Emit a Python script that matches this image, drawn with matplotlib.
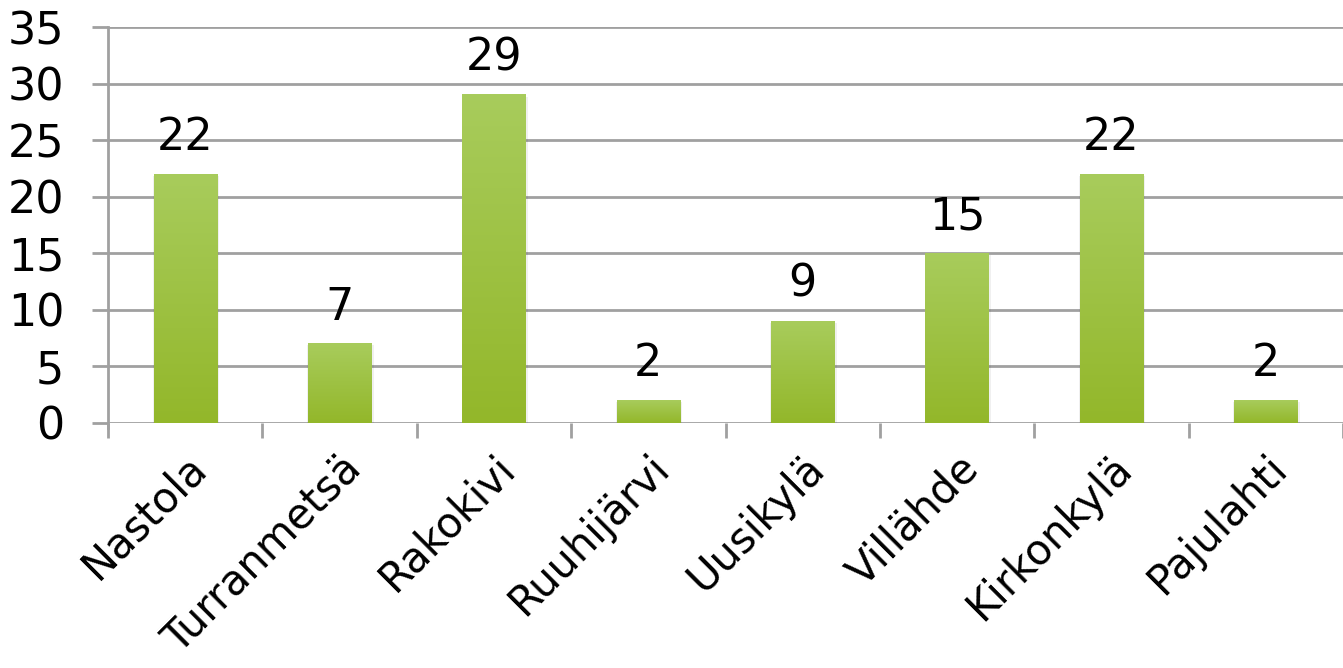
import numpy as np
import matplotlib.pyplot as plt
from matplotlib.colors import LinearSegmentedColormap

# data
places = ['Nastola', 'Turranmetsä', 'Rakokivi', 'Ruuhijärvi', 'Uusikylä',
          'Villähde', 'Kirkonkylä', 'Pajulahti']
counts = [22, 7, 29, 2, 9, 15, 22, 2]
y_ticks = [0, 5, 10, 15, 20, 25, 30, 35]

plt.rcParams['font.family'] = ['DejaVu Sans']
fs = 32

fig = plt.figure(figsize=(13.43, 6.68), dpi=100)
ax = fig.add_axes([108 / 1343, 1 - 423 / 668, 1 - 108 / 1343, (423 - 27) / 668])

x = np.arange(len(places))
bar_w = 0.41
grey = '#a0a0a0'

# gradient fill for bars (light on top, darker at bottom)
cmap = LinearSegmentedColormap.from_list('g', ['#93b72a', '#a8cc5c'])
grad = np.linspace(0, 1, 256).reshape(-1, 1)

bars = ax.bar(x, counts, width=bar_w, color='#9dc043', zorder=3,
              edgecolor='none')
for b in bars:
    x0, w, h = b.get_x(), b.get_width(), b.get_height()
    # faint shadow
    ax.bar(x0 + w / 2 + 0.005, h, width=w + 0.02, bottom=-0.15,
           color='#000000', alpha=0.06, zorder=2, edgecolor='none')
    ax.imshow(grad, extent=[x0, x0 + w, 0, h], origin='lower', aspect='auto',
              cmap=cmap, zorder=4)

for xi, v in zip(x, counts):
    ax.annotate(str(v), (xi, v), xytext=(0, 11), textcoords='offset points',
                ha='center', va='bottom', fontsize=fs, color='black')

ax.set_xlim(-0.5, len(places) - 0.5)
ax.set_ylim(0, 35)
ax.set_yticks(y_ticks)
ax.set_yticklabels([str(t) for t in y_ticks], fontsize=fs)
ax.yaxis.grid(True, color=grey, linewidth=2, zorder=0)
ax.tick_params(axis='y', length=11.5, width=2, color=grey, pad=20)

ax.set_xticks(x)
ax.set_xticklabels(places, rotation=45, ha='right', va='top',
                   rotation_mode='anchor', fontsize=30)
ax.tick_params(axis='x', which='major', length=0, pad=17)
ax.set_xticks(np.arange(len(places) + 1) - 0.5, minor=True)
ax.tick_params(axis='x', which='minor', length=10.5, width=2, color=grey)

for s in ['top', 'right', 'bottom']:
    ax.spines[s].set_visible(False)
ax.spines['left'].set_color(grey)
ax.spines['left'].set_linewidth(2)
ax.spines['left'].set_bounds(-0.4, 35)
ax.spines['left'].set_zorder(1)

fig.savefig('out.png', dpi=100)
